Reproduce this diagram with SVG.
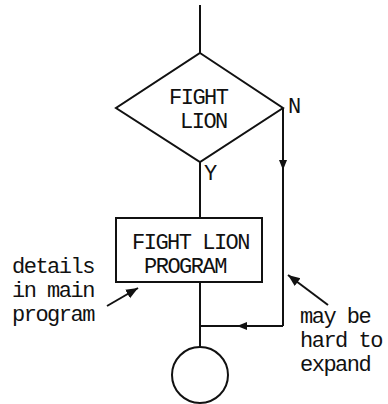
<svg xmlns="http://www.w3.org/2000/svg" width="388" height="404" viewBox="0 0 388 404">
<style>
.s{fill:none;stroke:#111;stroke-width:2}
.t{font-family:"Liberation Mono","DejaVu Sans Mono",monospace;font-size:22px;fill:#111;letter-spacing:-1.5px}
</style>
<defs>
<marker id="ah" viewBox="0 0 10 10" refX="5" refY="5" markerWidth="10" markerHeight="10" markerUnits="userSpaceOnUse" orient="auto"><path d="M0,1 L10,5 L0,9 Z" fill="#111"/></marker>
<marker id="ah2" viewBox="0 0 10 10" refX="10" refY="5" markerWidth="12" markerHeight="12" markerUnits="userSpaceOnUse" orient="auto"><path d="M0,1 L10,5 L0,9 Z" fill="#111"/></marker>
</defs>
<rect width="388" height="404" fill="#fff"/>
<g id="connectors">
<line class="s" x1="200" y1="5" x2="200" y2="53"/>
<line class="s" x1="200" y1="162" x2="200" y2="218"/>
<line class="s" x1="200" y1="282" x2="200" y2="347"/>
<path class="s" d="M283,108 L283,165" marker-end="url(#ah)"/>
<line class="s" x1="283" y1="160" x2="283" y2="326"/>
<path class="s" d="M283,326 L242,326" marker-end="url(#ah)"/>
<line class="s" x1="245" y1="326" x2="200" y2="326"/>
<path class="s" d="M107,306 L138,288" marker-end="url(#ah2)"/>
<path class="s" d="M328,305 L288,275" marker-end="url(#ah2)"/>
</g>
<g id="decision">
<polygon class="s" points="200,53 283,108 200,162 116,108"/>
<text class="t" x="169" y="104">FIGHT</text>
<text class="t" x="180" y="128">LION</text>
<text class="t" x="288" y="113">N</text>
<text class="t" x="204" y="180">Y</text>
</g>
<g id="process">
<rect class="s" x="116" y="218" width="146" height="64"/>
<text class="t" x="132" y="249">FIGHT LION</text>
<text class="t" x="144" y="273">PROGRAM</text>
</g>
<g id="terminal">
<circle class="s" cx="200" cy="375" r="28"/>
</g>
<g id="note-left">
<text class="t" x="12" y="273">details</text>
<text class="t" x="12" y="297">in main</text>
<text class="t" x="12" y="321">program</text>
</g>
<g id="note-right">
<text class="t" x="300" y="323">may be</text>
<text class="t" x="300" y="347">hard to</text>
<text class="t" x="300" y="371">expand</text>
</g>
</svg>
